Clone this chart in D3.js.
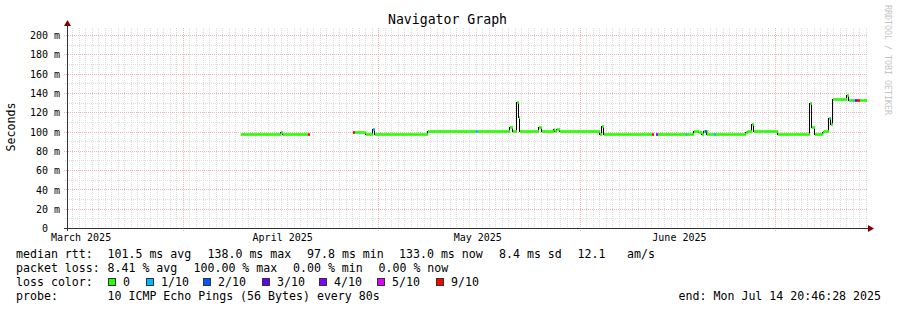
<!DOCTYPE html>
<html>
<head>
<meta charset="utf-8">
<script src="https://cdn.jsdelivr.net/npm/d3@7/dist/d3.min.js"></script>
<style>
  html, body { margin: 0; padding: 0; background: #ffffff; }
  svg { display: block; }
  text { font-family: "DejaVu Sans Mono", monospace; fill: #000; }
</style>
</head>
<body>
<svg id="chart" width="897" height="310"></svg>
<script>
// ---------------- data ----------------
const title = "Navigator Graph";
const yTitle = "Seconds";
const watermark = "RRDTOOL / TOBI OETIKER";
const timeStart = "2025-03-14T04:00:00Z";
const timeEnd = "2025-07-15T04:00:00Z";
const yMax = 207.3; // ms
const yTicks = [0, 20, 40, 60, 80, 100, 120, 140, 160, 180, 200];
const monthLabels = ["March 2025", "April 2025", "May 2025", "June 2025"];
const monthLabelDates = ["2025-03-16T06:00:00Z", "2025-04-16T06:00:00Z", "2025-05-16T06:00:00Z", "2025-06-16T06:00:00Z"];

// median rtt (ms), step series: value holds from this time to the next one; null = no data
const times = [
  "2025-04-09T18:20Z","2025-04-15T22:00Z","2025-04-16T05:20Z","2025-04-20T01:30Z","2025-04-20T09:00Z",
  "2025-04-26T23:40Z","2025-04-27T07:00Z","2025-04-28T23:35Z","2025-04-30T01:25Z","2025-04-30T10:40Z",
  "2025-05-08T12:20Z","2025-05-15T23:20Z","2025-05-16T06:40Z","2025-05-21T03:00Z","2025-05-21T12:55Z",
  "2025-05-22T04:50Z","2025-05-22T14:00Z","2025-05-22T17:40Z","2025-05-25T15:50Z","2025-05-26T01:00Z",
  "2025-05-27T19:30Z","2025-05-28T01:00Z","2025-05-28T10:15Z","2025-05-28T17:40Z","2025-06-04T00:10Z",
  "2025-06-04T06:25Z","2025-06-04T14:55Z","2025-06-11T22:55Z","2025-06-12T04:30Z","2025-06-12T15:30Z",
  "2025-06-12T21:00Z","2025-06-17T04:25Z","2025-06-17T09:55Z","2025-06-18T11:00Z","2025-06-19T05:30Z",
  "2025-06-19T15:25Z","2025-06-20T00:00Z","2025-06-20T03:35Z","2025-06-20T08:05Z","2025-06-20T09:50Z",
  "2025-06-21T12:50Z","2025-06-21T18:00Z","2025-06-26T09:50Z","2025-06-26T17:10Z","2025-06-27T06:50Z",
  "2025-06-27T14:15Z","2025-07-01T06:45Z","2025-07-01T14:10Z","2025-07-01T22:40Z","2025-07-06T07:05Z",
  "2025-07-06T13:20Z","2025-07-06T23:20Z","2025-07-08T04:50Z","2025-07-08T10:45Z","2025-07-09T05:10Z",
  "2025-07-09T07:45Z","2025-07-09T12:30Z","2025-07-09T19:55Z","2025-07-11T21:25Z","2025-07-12T07:00Z",
  "2025-07-12T19:30Z","2025-07-13T01:25Z","2025-07-13T04:00Z","2025-07-13T13:15Z","2025-07-13T20:40Z",
  "2025-07-15T00:15Z"
];
const medianRtt = [
  97.8, 99.5, 97.8, 97.8, null,
  99.5, 99.5, 97.8, 102.6, 97.8,
  100.8, 100.8, 100.8, 105.0, 100.8,
  130.9, 115.3, 100.8, 105.0, 100.8,
  102.6, 100.8, 102.6, 100.8, 97.8,
  105.5, 97.8, 97.8, null, 97.8,
  97.8, 97.8, 97.8, 100.8, 99.8,
  97.8, 100.8, 100.8, 100.8, 97.8,
  97.8, 97.8, 99.8, 100.8, 107.8,
  100.8, 97.8, 97.2, 97.8, 129.8,
  105.0, 97.8, 99.3, 100.8, 113.7,
  113.7, 107.5, 133.4, 137.5, 133.0,
  133.0, 133.0, 133.0, 133.0, 133.0,
  null
];
// lost pings out of 10
const lossCount = [
  0, 0, 0, 9, 0,
  9, 0, 0, 1, 0,
  0, 1, 0, 0, 0,
  0, 0, 0, 0, 0,
  0, 0, 0, 0, 0,
  0, 0, 9, 0, 4,
  0, 1, 0, 0, 0,
  0, 0, 2, 0, 0,
  1, 0, 0, 0, 0,
  0, 0, 0, 0, 0,
  0, 0, 0, 0, 0,
  1, 0, 0, 0, 0,
  1, 0, 3, 9, 0,
  0
];

const lossLevels = [0, 1, 2, 3, 4, 5, 9];
const lossLevelLabels = ["0", "1/10", "2/10", "3/10", "4/10", "5/10", "9/10"];
const lossLevelColors = ["#26ff00", "#00b8ff", "#0059ff", "#5e00ff", "#7e00ff", "#dd00ff", "#ff0000"];

const rttLabel = "median rtt:";
const rttStats = ["101.5 ms avg", "138.0 ms max", "97.8 ms min", "133.0 ms now", "8.4 ms sd", "12.1", "am/s"];
const lossLabel = "packet loss:";
const lossStats = ["8.41 % avg", "100.00 % max", "0.00 % min", "0.00 % now"];
const colorLabel = "loss color:";
const probeLabel = "probe:";
const probeText = "10 ICMP Echo Pings (56 Bytes) every 80s";
const endText = "end: Mon Jul 14 20:46:28 2025";

// ---------------- layout ----------------
const plot = { left: 67, right: 867, top: 28, bottom: 228 };
const rttX = [107.5, 207.5, 307, 399, 499, 577.5, 627];
const lossX = [107.5, 193.5, 293, 378.5];
const boxX = [108, 146, 203, 262, 319, 377, 436];
const legendRowY = [257.5, 271.5, 285.5, 299.5];

const svg = d3.select("#chart");

const x = d3.scaleUtc().domain([new Date(timeStart), new Date(timeEnd)]).range([plot.left, plot.right]);
const y = d3.scaleLinear().domain([0, yMax]).range([plot.bottom, plot.top]);

const gridMinor = "#dcdcdc";
const gridMajor = "#f0b2b2";

// minor grid: horizontal every 10, vertical every day
const g = svg.append("g").attr("shape-rendering", "crispEdges");
d3.range(10, yMax, 10).filter(v => v % 20 !== 0).forEach(v => {
  g.append("line").attr("x1", plot.left - 2).attr("x2", plot.right)
    .attr("y1", Math.round(y(v)) + 0.5).attr("y2", Math.round(y(v)) + 0.5)
    .attr("stroke", gridMinor).attr("stroke-dasharray", "1,1");
});
d3.utcDay.range(x.domain()[0], x.domain()[1]).forEach(d => {
  if (d.getUTCDate() === 1) return;
  const px = Math.round(x(d)) + 0.5;
  g.append("line").attr("x1", px).attr("x2", px)
    .attr("y1", plot.top).attr("y2", plot.bottom + 2)
    .attr("stroke", gridMinor).attr("stroke-dasharray", "1,1");
});
// major grid
yTicks.filter(v => v > 0).forEach(v => {
  g.append("line").attr("x1", plot.left - 3).attr("x2", plot.right)
    .attr("y1", Math.round(y(v)) + 0.5).attr("y2", Math.round(y(v)) + 0.5)
    .attr("stroke", gridMajor).attr("stroke-dasharray", "1,1");
});
d3.utcMonth.range(d3.utcMonth.ceil(x.domain()[0]), x.domain()[1]).forEach(d => {
  const px = Math.round(x(d)) + 0.5;
  g.append("line").attr("x1", px).attr("x2", px)
    .attr("y1", plot.top).attr("y2", plot.bottom + 3)
    .attr("stroke", gridMajor).attr("stroke-dasharray", "1,1");
});

// ---------------- median line ----------------
const pts = times.map((t, i) => ({ t: new Date(t), v: medianRtt[i], l: lossCount[i] }));
const segs = [];
for (let i = 0; i < pts.length - 1; i++) {
  if (pts[i].v == null) continue;
  segs.push({ t0: pts[i].t, t1: pts[i + 1].t, v: pts[i].v, l: pts[i].l });
}
const linePts = [];
segs.forEach((s, i) => {
  if (i > 0 && segs[i - 1].t1.getTime() !== s.t0.getTime()) linePts.push(null);
  linePts.push({ t: s.t0, v: s.v });
  linePts.push({ t: s.t1, v: s.v });
});
const line = d3.line().defined(d => d != null).x(d => Math.round(x(d.t)) + 0.5).y(d => Math.round(y(d.v)) + 0.5);
svg.append("path").attr("d", line(linePts)).attr("fill", "none")
  .attr("stroke", "#000").attr("stroke-width", 1).attr("shape-rendering", "crispEdges");

const lossColor = d3.scaleOrdinal().domain(lossLevels).range(lossLevelColors);
svg.append("g").selectAll("rect").data(segs).join("rect")
  .attr("x", d => Math.round(x(d.t0)) + 1)
  .attr("width", d => Math.max(1, Math.round(x(d.t1)) - Math.round(x(d.t0))))
  .attr("y", d => Math.round(y(d.v)) - 0.8)
  .attr("height", 2.6)
  .attr("fill", d => lossColor(d.l));

// ---------------- axes ----------------
const axisColor = "#333";
const arrowColor = "#7f0000";
svg.append("line").attr("x1", plot.left - 3).attr("x2", plot.right + 2)
  .attr("y1", plot.bottom + 0.5).attr("y2", plot.bottom + 0.5)
  .attr("stroke", axisColor).attr("shape-rendering", "crispEdges");
svg.append("line").attr("x1", plot.left + 0.5).attr("x2", plot.left + 0.5)
  .attr("y1", plot.bottom + 3).attr("y2", plot.top - 5)
  .attr("stroke", axisColor).attr("shape-rendering", "crispEdges");
svg.append("path").attr("d", d3.line()([[plot.left + 0.5, plot.top - 8], [plot.left - 3, plot.top - 2], [plot.left + 4, plot.top - 2]]) + "Z")
  .attr("fill", arrowColor);
svg.append("path").attr("d", d3.line()([[plot.right + 7, plot.bottom + 0.5], [plot.right + 1, plot.bottom - 3], [plot.right + 1, plot.bottom + 4]]) + "Z")
  .attr("fill", arrowColor);

// y tick labels
const yAxis = d3.axisLeft(y).tickValues(yTicks).tickSize(0).tickPadding(7)
  .tickFormat(v => v === 0 ? "0  " : v + " m");
const ya = svg.append("g").attr("transform", `translate(${plot.left},0)`).call(yAxis);
ya.select(".domain").remove();
ya.selectAll("text").attr("font-family", "DejaVu Sans Mono").attr("font-size", "10px")
  .attr("fill", "#000").style("white-space", "pre").attr("dy", "0.36em");

// x labels
const xAxis = d3.axisBottom(x).tickValues(monthLabelDates.map(d => new Date(d))).tickSize(0).tickPadding(6)
  .tickFormat((d, i) => monthLabels[i]);
const xa = svg.append("g").attr("transform", `translate(0,${plot.bottom})`).call(xAxis);
xa.select(".domain").remove();
xa.selectAll("text").attr("font-family", "DejaVu Sans Mono").attr("font-size", "10px").attr("fill", "#000");

// ---------------- texts ----------------
svg.append("text").attr("x", 447.5).attr("y", 23.5).attr("text-anchor", "middle")
  .attr("font-size", "13.2px").text(title);
svg.append("text").attr("transform", "translate(15,127) rotate(-90)").attr("text-anchor", "middle")
  .attr("font-size", "11.6px").text(yTitle);
svg.append("text").attr("transform", "translate(885,5) rotate(90)").attr("text-anchor", "start")
  .attr("font-size", "8.3px").style("fill", "#c4c4c4").text(watermark);

const leg = svg.append("g").attr("font-size", "11.6px").style("white-space", "pre");
leg.append("text").attr("x", 16).attr("y", legendRowY[0]).text(rttLabel);
rttStats.forEach((s, i) => leg.append("text").attr("x", rttX[i]).attr("y", legendRowY[0]).text(s));
leg.append("text").attr("x", 16).attr("y", legendRowY[1]).text(lossLabel);
lossStats.forEach((s, i) => leg.append("text").attr("x", lossX[i]).attr("y", legendRowY[1]).text(s));
leg.append("text").attr("x", 16).attr("y", legendRowY[2]).text(colorLabel);
lossLevelLabels.forEach((s, i) => {
  leg.append("rect").attr("x", boxX[i] + 0.5).attr("y", legendRowY[2] - 7.5).attr("width", 7).attr("height", 7)
    .attr("fill", lossLevelColors[i]).attr("stroke", "#333").attr("stroke-width", 1)
    .attr("shape-rendering", "crispEdges");
  leg.append("text").attr("x", boxX[i] + 15).attr("y", legendRowY[2]).text(s);
});
leg.append("text").attr("x", 16).attr("y", legendRowY[3]).text(probeLabel);
leg.append("text").attr("x", 107.5).attr("y", legendRowY[3]).text(probeText);
leg.append("text").attr("x", 881).attr("y", legendRowY[3]).attr("text-anchor", "end").text(endText);
</script>
</body>
</html>
